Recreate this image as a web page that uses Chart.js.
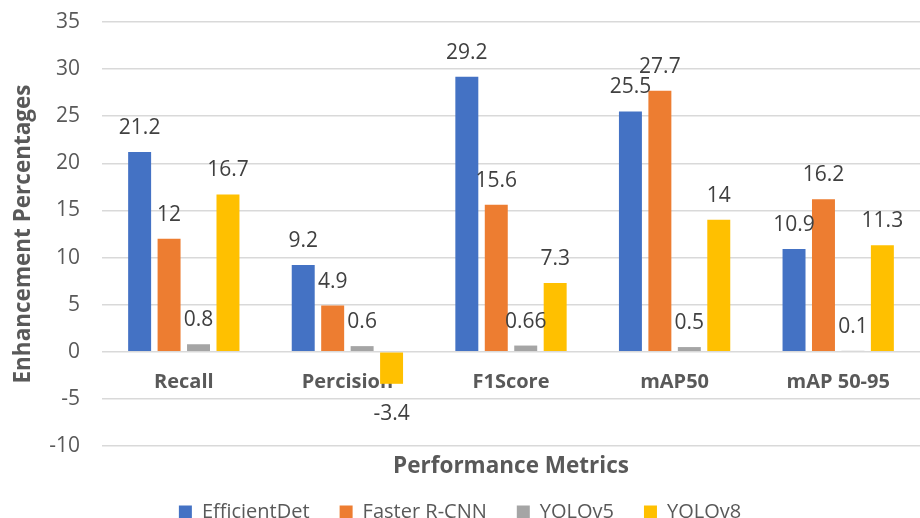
<!DOCTYPE html>
<html>
<head>
<meta charset="utf-8">
<script src="https://cdn.jsdelivr.net/npm/chart.js@4"></script>
<style>
  html, body { margin: 0; padding: 0; background: #fff; }
  #wrap { width: 920px; height: 518px; }
</style>
</head>
<body>
<div id="wrap"><canvas id="metricsChart"></canvas></div>
<script>
const metrics = ['Recall', 'Percision', 'F1Score', 'mAP50', 'mAP 50-95'];
const efficientDet = [21.2, 9.2, 29.2, 25.5, 10.9];
const fasterRcnn = [12, 4.9, 15.6, 27.7, 16.2];
const yolov5 = [0.8, 0.6, 0.66, 0.5, 0.1];
const yolov8 = [16.7, -3.4, 7.3, 14, 11.3];
const yTicks = [-10, -5, 0, 5, 10, 15, 20, 25, 30, 35];

const FONT = "'Open Sans', sans-serif";
const AXIS_GREY = '#595959';

// category names sit just under the zero line, behind the bars
const categoryLabels = {
    id: 'categoryLabels',
    beforeDatasetsDraw(chart) {
        const { ctx, scales: { x, y } } = chart;
        const y0 = y.getPixelForValue(0);
        ctx.save();
        ctx.font = `bold 20px ${FONT}`;
        ctx.fillStyle = AXIS_GREY;
        ctx.textAlign = 'center';
        ctx.textBaseline = 'middle';
        metrics.forEach((m, i) => {
            ctx.fillText(m, x.getPixelForValue(i), y0 + 31);
        });
        ctx.restore();
    }
};

// value labels outside the end of every bar
const valueLabels = {
    id: 'valueLabels',
    afterDatasetsDraw(chart) {
        const { ctx } = chart;
        ctx.save();
        ctx.font = `21px ${FONT}`;
        ctx.fillStyle = '#404040';
        ctx.textAlign = 'center';
        ctx.textBaseline = 'middle';
        chart.data.datasets.forEach((ds, di) => {
            chart.getDatasetMeta(di).data.forEach((bar, i) => {
                const v = ds.data[i];
                const ty = v >= 0 ? bar.y - 24 : bar.y + 30;
                ctx.fillText(String(v), bar.x, ty);
            });
        });
        ctx.restore();
    }
};

new Chart(document.getElementById('metricsChart'), {
    type: 'bar',
    data: {
        labels: metrics,
        datasets: [
            { label: 'EfficientDet', data: efficientDet, backgroundColor: '#4472C4' },
            { label: 'Faster R-CNN', data: fasterRcnn, backgroundColor: '#ED7D31' },
            { label: 'YOLOv5', data: yolov5, backgroundColor: '#A5A5A5' },
            { label: 'YOLOv8', data: yolov8, backgroundColor: '#FFC000' }
        ]
    },
    options: {
        responsive: true,
        maintainAspectRatio: false,
        animation: false,
        categoryPercentage: 0.72,
        barPercentage: 0.78,
        layout: { padding: { top: 22, right: 0, bottom: 0, left: 0 } },
        plugins: {
            legend: {
                position: 'bottom',
                maxHeight: 46,
                labels: {
                    font: { family: FONT, size: 20 },
                    color: AXIS_GREY,
                    boxWidth: 13,
                    boxHeight: 13,
                    padding: 30
                }
            },
            tooltip: { enabled: false }
        },
        scales: {
            x: {
                grid: { display: false },
                border: { display: false },
                ticks: { display: false },
                title: {
                    display: true,
                    text: 'Performance Metrics',
                    font: { family: FONT, size: 22.5, weight: 'bold' },
                    color: AXIS_GREY,
                    padding: { top: 0, bottom: -8.5 }
                },
                afterFit: (scale) => { scale.height = 26; }
            },
            y: {
                min: -10,
                max: 35,
                afterBuildTicks: (scale) => { scale.ticks = yTicks.map(v => ({ value: v })); },
                grid: {
                    color: '#d9d9d9',
                    lineWidth: 1.5,
                    drawTicks: true,
                    tickLength: 22,
                    tickColor: 'rgba(0,0,0,0)'
                },
                border: { display: false },
                ticks: {
                    font: { family: FONT, size: 21 },
                    color: AXIS_GREY,
                    padding: 0
                },
                title: {
                    display: true,
                    text: 'Enhancement Percentages',
                    font: { family: FONT, size: 22.5, weight: 'bold' },
                    color: AXIS_GREY,
                    padding: { top: 10.5 }
                },
                afterFit: (scale) => { scale.width = 102; }
            }
        }
    },
    plugins: [categoryLabels, valueLabels]
});
</script>
</body>
</html>
